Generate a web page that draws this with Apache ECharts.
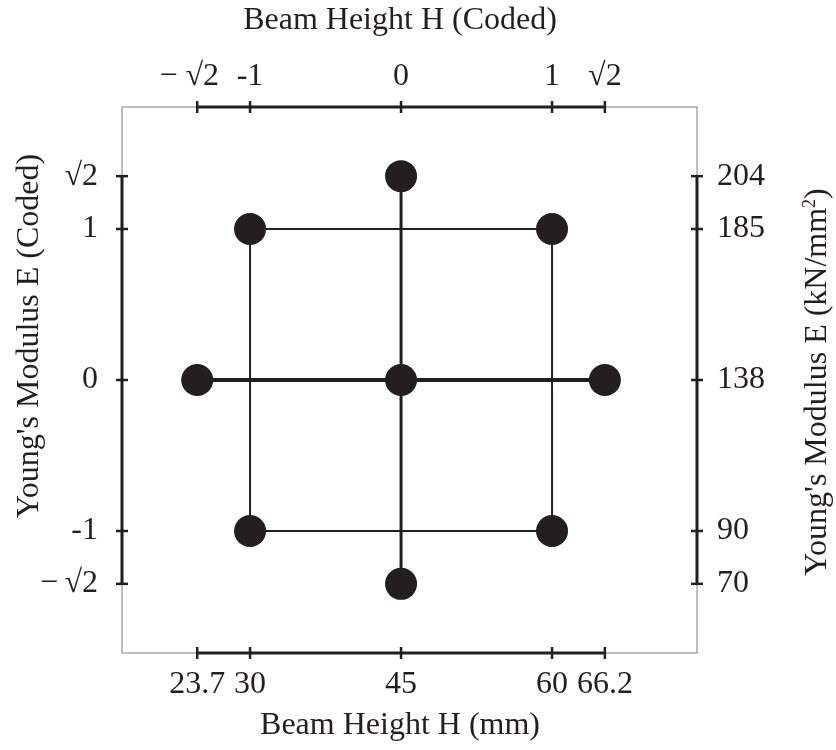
<!DOCTYPE html>
<html>
<head>
<meta charset="utf-8">
<title>Central composite design</title>
<script src="https://cdn.jsdelivr.net/npm/echarts@6/dist/echarts.min.js"></script>
<style>
  html, body { margin: 0; padding: 0; background: #ffffff; }
  #chart { width: 836px; height: 750px; }
</style>
</head>
<body>
<div id="chart"></div>
<script>
// Axial distance of the star points as drawn on the coded scale
const axialLevel = 1.35;

// Coded factor levels and their tick labels
const codedLevels = [-axialLevel, -1, 0, 1, axialLevel];
const codedLabelsTop = ['{neg|\u2212 \u221A2}', '-1', '0', '1', '\u221A2'];
const codedLabelsLeft = ['\u2212\u2009\u221A2', '-1', '0', '1', '\u221A2'];
const heightMmLabels = ['23.7', '30', '45', '60', '66.2'];
const modulusLabels = ['70', '90', '138', '185', '204'];

// Design points (coded): 4 factorial, 4 axial, 1 centre
const designH = [-1, 1, 1, -1, -axialLevel, axialLevel, 0, 0, 0];
const designE = [-1, -1, 1, 1, 0, 0, -axialLevel, axialLevel, 0];

// Point indices joined by lines
const squarePath = [0, 1, 2, 3, 0];
const horizontalPath = [4, 8, 5];
const verticalPath = [6, 8, 7];

const ink = '#231f20';
const serif = "'Liberation Serif', 'Times New Roman', serif";
const fontSize = 32;
const tickLen = 6;

const pts = designH.map((h, i) => [h, designE[i]]);
const pathData = idx => idx.map(i => pts[i]);

function labelFor(list) {
  return v => {
    const i = codedLevels.findIndex(l => Math.abs(l - v) < 1e-6);
    return i >= 0 ? list[i] : '';
  };
}

// Edge ids: 0 bottom, 1 top, 2 left, 3 right
const tickRows = [];
[0, 1, 2, 3].forEach(edge => codedLevels.forEach(v => tickRows.push([edge, v])));
const segmentRows = [0, 1, 2, 3].map(edge => [edge, codedLevels[0], codedLevels[codedLevels.length - 1]]);

function edgePoint(params, api, edge, v) {
  const cs = params.coordSys;
  if (edge < 2) {
    const x = api.coord([v, 0])[0];
    return [x, edge === 0 ? cs.y + cs.height : cs.y];
  }
  const y = api.coord([0, v])[1];
  return [edge === 2 ? cs.x : cs.x + cs.width, y];
}

const baseAxis = {
  type: 'value',
  axisLine: { show: false },
  splitLine: { show: false },
  axisTick: { show: false }
};
const labelStyle = { color: ink, fontFamily: serif, fontSize: fontSize };

const chart = echarts.init(document.getElementById('chart'), null, { renderer: 'canvas' });

chart.setOption({
  animation: false,
  backgroundColor: '#ffffff',
  grid: {
    left: 122, right: 139, top: 107, bottom: 97,
    show: true, borderColor: '#7f7f7f', borderWidth: 1,
    outerBoundsMode: 'none'
  },
  xAxis: [
    Object.assign({}, baseAxis, {
      position: 'bottom', min: -1.848, max: 1.96,
      axisLabel: Object.assign({}, labelStyle, {
        customValues: codedLevels, margin: 16, formatter: labelFor(heightMmLabels)
      })
    }),
    Object.assign({}, baseAxis, {
      position: 'top', min: -1.848, max: 1.96,
      axisLabel: Object.assign({}, labelStyle, {
        customValues: codedLevels, margin: 14, formatter: labelFor(codedLabelsTop),
        rich: { neg: { fontFamily: serif, fontSize: fontSize, color: ink, padding: [0, 16, 0, 0] } }
      })
    })
  ],
  yAxis: [
    Object.assign({}, baseAxis, {
      position: 'left', min: -1.808, max: 1.808,
      axisLabel: Object.assign({}, labelStyle, {
        customValues: codedLevels, margin: 24, formatter: labelFor(codedLabelsLeft)
      })
    }),
    Object.assign({}, baseAxis, {
      position: 'right', min: -1.808, max: 1.808,
      axisLabel: Object.assign({}, labelStyle, {
        customValues: codedLevels, margin: 20, formatter: labelFor(modulusLabels)
      })
    })
  ],
  graphic: [
    {
      type: 'text', x: 400, y: 21,
      style: { text: 'Beam Height H (Coded)', fill: ink, font: fontSize + 'px ' + serif, align: 'center', verticalAlign: 'middle' }
    },
    {
      type: 'text', x: 400, y: 726,
      style: { text: 'Beam Height H (mm)', fill: ink, font: fontSize + 'px ' + serif, align: 'center', verticalAlign: 'middle' }
    },
    {
      type: 'text', x: 30, y: 336, rotation: Math.PI / 2,
      style: { text: "Young's Modulus E (Coded)", fill: ink, font: fontSize + 'px ' + serif, align: 'center', verticalAlign: 'middle' }
    },
    {
      type: 'text', x: 818, y: 382, rotation: Math.PI / 2,
      style: {
        text: "Young's Modulus E (kN/mm{sup|2})",
        fill: ink, font: fontSize + 'px ' + serif, align: 'center', verticalAlign: 'middle',
        rich: { sup: { fontSize: 18, fontFamily: serif, fill: ink, verticalAlign: 'top', padding: [0, 0, 16, 0] } }
      }
    }
  ],
  series: [
    {
      type: 'line', data: pathData(squarePath), showSymbol: false, silent: true,
      lineStyle: { color: ink, width: 2 }, z: 2
    },
    {
      type: 'line', data: pathData(horizontalPath), showSymbol: false, silent: true,
      lineStyle: { color: ink, width: 4 }, z: 2
    },
    {
      type: 'line', data: pathData(verticalPath), showSymbol: false, silent: true,
      lineStyle: { color: ink, width: 3 }, z: 2
    },
    {
      type: 'scatter', data: pts, symbol: 'circle', symbolSize: 32,
      itemStyle: { color: ink, opacity: 1 }, z: 3
    },
    {
      // thick axis segments spanning the coded range on each edge
      type: 'custom', silent: true, z: 4,
      data: segmentRows,
      renderItem: (params, api) => {
        const edge = api.value(0);
        const a = edgePoint(params, api, edge, api.value(1));
        const b = edgePoint(params, api, edge, api.value(2));
        return {
          type: 'line',
          shape: { x1: a[0], y1: a[1], x2: b[0], y2: b[1] },
          style: { stroke: ink, lineWidth: 3 }
        };
      }
    },
    {
      // tick marks crossing each edge at every factor level
      type: 'custom', silent: true, z: 4,
      data: tickRows,
      renderItem: (params, api) => {
        const edge = api.value(0);
        const p = edgePoint(params, api, edge, api.value(1));
        const shape = edge < 2
          ? { x1: p[0], y1: p[1] - tickLen, x2: p[0], y2: p[1] + tickLen }
          : { x1: p[0] - tickLen, y1: p[1], x2: p[0] + tickLen, y2: p[1] };
        return { type: 'line', shape: shape, style: { stroke: ink, lineWidth: 2.5 } };
      }
    }
  ]
});
</script>
</body>
</html>
